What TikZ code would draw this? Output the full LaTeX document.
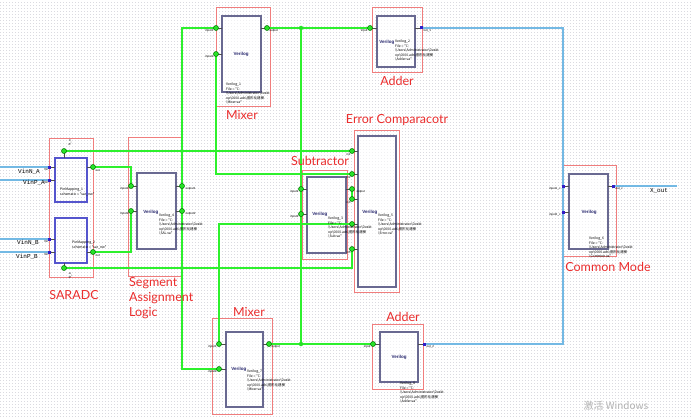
\documentclass[tikz,border=0pt]{standalone}
\usepackage{fontspec}
\setmainfont{Liberation Serif}
\newfontfamily\labfont{Lato}
\newfontfamily\cjkfont{Noto Sans CJK SC}
\newfontfamily\monofont{Liberation Mono}
\newfontfamily\sansfont{Liberation Sans}
\usetikzlibrary{calc}
\definecolor{gridc}{RGB}{218,218,224}
\definecolor{rbox}{RGB}{240,125,125}
\definecolor{rlab}{RGB}{235,45,45}
\definecolor{vblue}{RGB}{105,105,145}
\definecolor{sblue}{RGB}{85,85,205}
\definecolor{wgreen}{RGB}{45,240,45}
\definecolor{pgreen}{RGB}{40,225,40}
\definecolor{wblue}{RGB}{115,185,228}
\definecolor{pblue}{RGB}{50,30,200}
\definecolor{navy}{RGB}{40,40,110}
\newcommand\bx[6]{\node[#6, minimum width={#4-#2}, minimum height={#5-#3}] (#1) at (#2,#3) {};}
\newcommand\vinst[5]{\node[tinytxt, anchor=north west] (#1) at (#2,#3) {Verilog\_#4\\File = "C:\\\textbackslash Users\textbackslash Administrator\textbackslash Deskt\\op\textbackslash 0000.ads\textbackslash 图形化建模\\\textbackslash #5.va"};}
\begin{document}
\begin{tikzpicture}[x=1pt,y=-1pt,
  rframe/.style={draw=rbox, line width=0.9pt, inner sep=0, outer sep=0, anchor=north west},
  vframe/.style={draw=vblue, line width=1.3pt, fill=white, fill opacity=0.6, inner sep=0, outer sep=0, anchor=north west},
  sframe/.style={draw=sblue, line width=1.3pt, inner sep=0, outer sep=0, anchor=north west},
  gw/.style={draw=wgreen, line width=1.6pt},
  bw/.style={draw=wblue, line width=1.6pt},
  stub/.style={draw=black!70, line width=0.7pt},
  gpin/.style={circle, fill=pgreen, draw=black!55!green, line width=0.5pt, minimum size=5pt, inner sep=0},
  bpin/.style={rectangle, fill=pblue, minimum size=3pt, inner sep=0},
  jdot/.style={circle, fill=pgreen, minimum size=4.5pt, inner sep=0},
  lab/.style={text=rlab, font=\labfont\fontsize{12.5}{15}\selectfont, inner sep=0},
  tinytxt/.style={font=\cjkfont\fontsize{3.4}{4.4}\selectfont, align=left, inner sep=0},
  pinl/.style={font=\sansfont\fontsize{3}{3.5}\selectfont, inner sep=0.3pt},
  inl/.style={font=\monofont\fontsize{6}{7}\selectfont, inner sep=0},
  vlog/.style={font=\sansfont\bfseries\fontsize{4.5}{5}\selectfont, text=navy, inner sep=0}
]
\useasboundingbox (0,0) rectangle (693,417);
\fill[white] (0,0) rectangle (693,417);
\foreach \yy in {2,5,...,416} \draw[gridc, line width=0.5pt, dash pattern=on 0.5pt off 2.5pt] (0,\yy) -- (693,\yy);

% pin coordinates
\coordinate (sarT) at (64,151);
\coordinate (sarO1) at (93,167);
\coordinate (sarO2) at (93,252);
\coordinate (sarBot) at (64,268);
\coordinate (sarI1) at (49,167);
\coordinate (sarI2) at (49,180);
\coordinate (sarI3) at (49,239);
\coordinate (sarI4) at (49,252);
\coordinate (vinNA) at (0,167);
\coordinate (vinPA) at (0,180);
\coordinate (vinNB) at (0,239);
\coordinate (vinPB) at (0,252);
\coordinate (salI1) at (131,186);
\coordinate (salI2) at (131,211);
\coordinate (salO1) at (182,186);
\coordinate (salO2) at (182,211);
\coordinate (mxI1) at (216,28);
\coordinate (mxI2) at (216,54);
\coordinate (mxO) at (267,28);
\coordinate (adI) at (370,28);
\coordinate (adO) at (421,28);
\coordinate (sbI1) at (301,189);
\coordinate (sbI2) at (301,214);
\coordinate (sbO) at (352,189);
\coordinate (ec1) at (352,151);
\coordinate (ec2) at (352,174);
\coordinate (ec3) at (352,199);
\coordinate (ec4) at (352,224);
\coordinate (ec5) at (352,249);
\coordinate (cmI1) at (563,186);
\coordinate (cmI2) at (563,212);
\coordinate (cmO) at (613,186);
\coordinate (xout) at (677,186);
\coordinate (bmI1) at (219,344);
\coordinate (bmI2) at (219,369);
\coordinate (bmO) at (269,344);
\coordinate (baI) at (373,344);
\coordinate (baO) at (424,344);
\coordinate (jt) at (301,28);
\coordinate (jb) at (301,344);

% red annotation frames
\bx{sarR}{49}{138}{93}{277}{rframe}
\bx{salR}{128}{137}{182}{276}{rframe}
\bx{mxR}{216}{7}{270}{106}{rframe}
\bx{adR}{372}{7}{422}{72}{rframe}
\bx{sbR}{302}{170}{347}{259}{rframe}
\bx{ecR}{354}{130}{399}{292}{rframe}
\bx{cmR}{562}{165}{616}{256}{rframe}
\bx{bmR}{212}{318}{272}{414}{rframe}
\bx{baR}{372}{324}{423}{389}{rframe}

% component bodies
\bx{sarBoxA}{55}{158}{87}{202}{sframe}
\bx{sarBoxB}{55}{218}{87}{263}{sframe}
\bx{salV}{137}{173}{176}{249}{vframe}
\bx{mxV}{222}{16}{261}{92}{vframe}
\bx{adV}{377}{16}{415}{67}{vframe}
\bx{sbV}{307}{177}{346}{253}{vframe}
\bx{ecV}{358}{136}{396}{287}{vframe}
\bx{cmV}{569}{174}{608}{249}{vframe}
\bx{bmV}{226}{332}{263}{407}{vframe}
\bx{baV}{380}{332}{418}{382}{vframe}

% stubs
\draw[stub] (sarT) -- (sarT |- sarBoxA.north);
\draw[stub] (sarO1) -- (sarO1 -| sarBoxA.east);
\draw[stub] (sarI1) -- (sarI1 -| sarBoxA.west);
\draw[stub] (sarI2) -- (sarI2 -| sarBoxA.west);
\draw[stub] (sarI3) -- (sarI3 -| sarBoxB.west);
\draw[stub] (sarI4) -- (sarI4 -| sarBoxB.west);
\draw[stub] (sarO2) -- (sarO2 -| sarBoxB.east);
\draw[stub] (sarBot) -- (sarBot |- sarBoxB.south);
\draw[stub] (salI1) -- (salI1 -| salV.west);
\draw[stub] (salI2) -- (salI2 -| salV.west);
\draw[stub] (salO1) -- (salO1 -| salV.east);
\draw[stub] (salO2) -- (salO2 -| salV.east);
\draw[stub] (mxI1) -- (mxI1 -| mxV.west);
\draw[stub] (mxI2) -- (mxI2 -| mxV.west);
\draw[stub] (mxO) -- (mxO -| mxV.east);
\draw[stub] (adI) -- (adI -| adV.west);
\draw[stub] (adO) -- (adO -| adV.east);
\draw[stub] (sbI1) -- (sbI1 -| sbV.west);
\draw[stub] (sbI2) -- (sbI2 -| sbV.west);
\draw[stub] (sbO) -- (sbO -| sbV.east);
\foreach \p in {ec1,ec2,ec3,ec4,ec5} \draw[stub] (\p) -- (\p -| ecV.west);
\draw[stub] (cmI1) -- (cmI1 -| cmV.west);
\draw[stub] (cmI2) -- (cmI2 -| cmV.west);
\draw[stub] (cmO) -- (cmO -| cmV.east);
\draw[stub] (bmI1) -- (bmI1 -| bmV.west);
\draw[stub] (bmI2) -- (bmI2 -| bmV.west);
\draw[stub] (bmO) -- (bmO -| bmV.east);
\draw[stub] (baI) -- (baI -| baV.west);
\draw[stub] (baO) -- (baO -| baV.east);

% green wires
\draw[gw] (sarT) -- (ec1);
\draw[gw] (sarO1) -| (salI1);
\draw[gw] (sarO2) -| (salI2);
\draw[gw] (sarBot) -| (ec5);
\draw[gw] (mxI1) -| (salO1) |- (bmI2);
\draw[gw] (mxI2) |- (ec2);
\draw[gw] (bmI1) |- (ec4);
\draw[gw] (mxO) -- (adI);
\draw[gw] (jt) -- (jb);
\draw[gw] (bmO) -- (baI);
\draw[gw] (sbO) -- (ec3);

% blue wires
\draw[bw] (vinNA) -- (sarI1);
\draw[bw] (vinPA) -- (sarI2);
\draw[bw] (vinNB) -- (sarI3);
\draw[bw] (vinPB) -- (sarI4);
\draw[bw] (adO) -| (cmI1) |- (baO);
\draw[bw] (cmO) -- (xout);

% pins
\foreach \p in {sarT,sarO1,sarO2,sarBot,salI1,salI2,salO1,salO2,mxI1,mxI2,mxO,adI,sbI1,sbI2,sbO,ec1,ec2,ec3,ec4,ec5,bmI1,bmI2,bmO,baI}
  \node[gpin] (\p-p) at (\p) {};
\foreach \p in {sarI1,sarI2,sarI3,sarI4,adO,cmI1,cmI2,cmO,baO}
  \node[bpin] (\p-p) at (\p) {};
\node[jdot] (jt-d) at (jt) {};
\node[jdot] (jb-d) at (jb) {};

% SARADC texts
\node[inl, anchor=base west] (tNA) at (18,173) {VinN\_A};
\node[inl, anchor=base west] (tPA) at (23,184) {VinP\_A};
\node[inl, anchor=base west] (tNB) at (17,244) {VinN\_B};
\node[inl, anchor=base west] (tPB) at (16,258) {VinP\_B};
\foreach \yy/\nm in {169/a,182/b,241/c,254/d}
  \node[pinl, anchor=west] (sup\nm) at (43.5,\yy) {Vin};
\node[pinl, rotate=90] (rtT) at (70,143) {N\_a};
\node[pinl, rotate=90] (rtB) at (70,276) {N\_b};
\node[pinl, anchor=west] (oA) at (95,171) {out};
\node[pinl, anchor=west] (oB) at (95,256) {out};
\node[tinytxt, anchor=north west] (pm1) at (60,188) {PinMapping\_1\\schematic = "sar\_nw"};
\node[tinytxt, anchor=north west] (pm2) at (72,241) {PinMapping\_2\\schematic = "sar\_nw"};

% pin labels
\node[pinl, anchor=east] (l1) at (129,189) {input1};
\node[pinl, anchor=east] (l2) at (129,214) {input2};
\node[pinl, anchor=west] (l3) at (185,189) {output1};
\node[pinl, anchor=west] (l4) at (185,214) {output2};
\node[pinl, anchor=east] (l5) at (214,31) {input1};
\node[pinl, anchor=east] (l6) at (214,57) {input2};
\node[pinl, anchor=west] (l7) at (269,31) {output};
\node[pinl, anchor=east] (l8) at (368,31) {input};
\node[pinl, anchor=west] (l9) at (423,31) {out\_1};
\node[pinl, anchor=east] (l10) at (299,192) {input1};
\node[pinl, anchor=east] (l11) at (299,217) {input2};
\node[pinl, anchor=west] (l12) at (356,192) {output};
\foreach \p/\nm in {ec1/1,ec2/2,ec3/3,ec5/5}
  \node[pinl, anchor=north east] (ecl\nm) at ($(\p)+(-1,1.5)$) {in\nm};
\node[pinl, anchor=east] (l13) at (561,189) {input1\_c};
\node[pinl, anchor=east] (l14) at (561,215) {input2\_c};
\node[pinl, anchor=west] (l15) at (615,189) {out\_c};
\node[pinl, anchor=east] (l16) at (217,347) {input1};
\node[pinl, anchor=east] (l17) at (217,372) {input2};
\node[pinl, anchor=west] (l18) at (271,347) {output};
\node[pinl, anchor=east] (l19) at (371,347) {input};
\node[pinl, anchor=west] (l20) at (426,347) {out\_2};

% Verilog titles
\node[vlog, anchor=east] (vSal) at (158.5,212) {Verilog};
\node[vlog] (vMx) at (241,54) {Verilog};
\node[vlog, anchor=east] (vAd) at (394.5,42) {Verilog};
\node[vlog, anchor=east] (vSb) at (327.5,214) {Verilog};
\node[vlog, anchor=east] (vEc) at (377.5,212) {Verilog};
\node[vlog] (vCm) at (589,212) {Verilog};
\node[vlog, anchor=east] (vBm) at (246.5,369) {Verilog};
\node[vlog] (vBa) at (399,357) {Verilog};

% instance texts
\vinst{iSal}{159}{214}{4}{SAL}
\vinst{iMx}{226}{83}{1}{Mixer}
\vinst{iAd}{395}{40}{2}{Adder}
\vinst{iSb}{328}{217}{3}{Sub}
\vinst{iEc}{378}{214}{5}{Error}
\vinst{iCm}{589}{237}{6}{Common}
\vinst{iBm}{247}{370}{7}{Mixer}
\vinst{iBa}{400}{382}{8}{Adder}

% red labels
\node[lab] (sarLab) at (74,295) {SARADC};
\node[lab, anchor=north west, align=left] (salLab) at (129,277) {Segment\\Assignment\\Logic};
\node[lab] (mxLab) at (242,115) {Mixer};
\node[lab] (adLab) at (397,81) {Adder};
\node[lab] (sbLab) at (320,161) {Subtractor};
\node[lab] (ecLab) at (397,120) {Error Comparacotr};
\node[lab] (cmLab) at (608,267) {Common Mode};
\node[lab] (bmLab) at (249,312) {Mixer};
\node[lab] (baLab) at (403,317) {Adder};

\node[inl] (xoutL) at (659,191) {X\_out};
\node[text=black!30, font=\cjkfont\fontsize{10}{12}\selectfont, inner sep=0] (wm) at (616,406) {激活 Windows};
\end{tikzpicture}
\end{document}
